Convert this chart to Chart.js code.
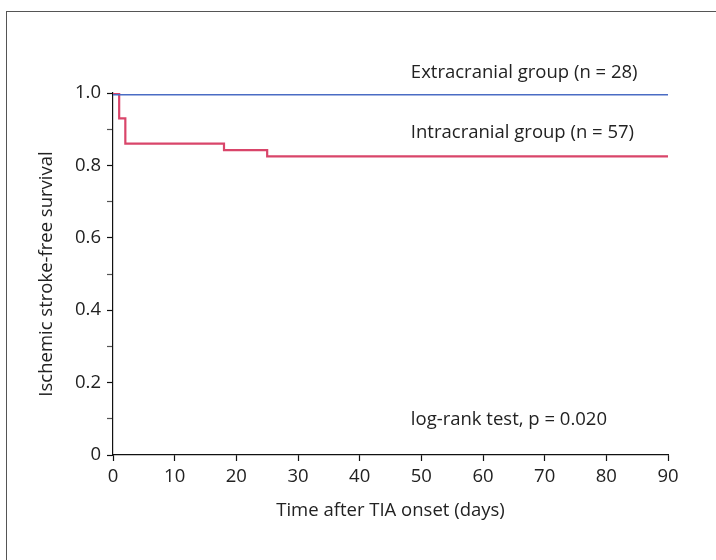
<!DOCTYPE html>
<html>
<head>
<meta charset="utf-8">
<script src="https://cdn.jsdelivr.net/npm/chart.js@4/dist/chart.umd.min.js"></script>
<style>
  html, body { margin: 0; padding: 0; background: #fff; }
  #wrap { position: relative; width: 716px; height: 560px; }
  #frame { position: absolute; left: 6px; top: 11px; right: -5px; bottom: -5px; border: 1.5px solid #555; }
  canvas { position: absolute; left: 0; top: 0; }
</style>
</head>
<body>
<div id="wrap">
  <div id="frame"></div>
  <canvas id="c" width="716" height="560"></canvas>
</div>
<script>
// Data
const extraDays = [0, 90];
const extraSurvival = [0.995, 0.995];
const intraDays = [0, 1, 2, 18, 25, 90];
const intraSurvival = [1.0, 0.93, 0.86, 0.842, 0.825, 0.825];
const xTicks = [0, 10, 20, 30, 40, 50, 60, 70, 80, 90];
const yTicks = [0, 0.2, 0.4, 0.6, 0.8, 1.0];
const labels = {
  extra: 'Extracranial group (n = 28)',
  intra: 'Intracranial group (n = 57)',
  test: 'log-rank test, p = 0.020',
  xTitle: 'Time after TIA onset (days)',
  yTitle: 'Ischemic stroke-free survival'
};
const annotations = [
  { text: labels.extra, x: 48.3, y: 1.057 },
  { text: labels.intra, x: 48.3, y: 0.89 },
  { text: labels.test, x: 48.3, y: 0.097 }
];

const FONT = "'Open Sans', 'Noto Sans', sans-serif";
const FS = 18.5;

const toXY = (xs, ys) => xs.map((x, i) => ({ x, y: ys[i] }));

const annotationPlugin = {
  id: 'annot',
  afterDraw(chart) {
    const { ctx, scales } = chart;
    ctx.save();
    ctx.font = FS + 'px ' + FONT;
    ctx.fillStyle = '#222';
    ctx.textAlign = 'left';
    ctx.textBaseline = 'middle';
    annotations.forEach(a => {
      ctx.fillText(a.text, scales.x.getPixelForValue(a.x), scales.y.getPixelForValue(a.y));
    });
    ctx.restore();
  }
};

new Chart(document.getElementById('c'), {
  type: 'line',
  data: {
    datasets: [
      {
        label: 'Extracranial',
        data: toXY(extraDays, extraSurvival),
        borderColor: '#4a6cc4',
        borderWidth: 1.6,
        pointRadius: 0,
        stepped: 'before',
        fill: false
      },
      {
        label: 'Intracranial',
        data: toXY(intraDays, intraSurvival),
        borderColor: '#d9456a',
        borderWidth: 2.2,
        pointRadius: 0,
        stepped: 'before',
        fill: false
      }
    ]
  },
  options: {
    responsive: false,
    animation: false,
    layout: { padding: { left: 0, right: 48, top: 93, bottom: 0 } },
    plugins: { legend: { display: false }, tooltip: { enabled: false } },
    scales: {
      x: {
        type: 'linear',
        min: 0, max: 90,
        afterFit: s => { s.height = 105; },
        afterBuildTicks: s => { s.ticks = xTicks.map(v => ({ value: v })); },
        grid: { drawOnChartArea: false, tickLength: 6, color: '#111', tickWidth: 1.2 },
        border: { display: true, color: '#111', width: 1.2 },
        ticks: { color: '#222', font: { family: FONT, size: FS }, padding: 5, maxRotation: 0 },
        title: { display: true, text: labels.xTitle, color: '#222', font: { family: FONT, size: FS }, padding: { top: 0, bottom: 38 } }
      },
      y: {
        type: 'linear',
        min: 0, max: 1,
        afterFit: s => { s.width = 113; },
        afterBuildTicks: s => {
          const t = [];
          for (let i = 0; i <= 10; i++) t.push({ value: i / 10 });
          s.ticks = t;
        },
        grid: {
          drawOnChartArea: false, tickLength: 6,
          tickColor: c => (Math.round(c.tick.value * 10) % 2 === 0 ? '#111' : '#555'),
          tickWidth: 1.2
        },
        border: { display: true, color: '#111', width: 1.2 },
        ticks: {
          color: '#222', font: { family: FONT, size: FS }, padding: 6,
          callback: (v) => {
            const r = Math.round(v * 10) / 10;
            if (!yTicks.some(t => Math.abs(t - r) < 1e-9)) return '';
            return r === 0 ? '0' : r.toFixed(1);
          }
        },
        title: { display: true, text: labels.yTitle, color: '#222', font: { family: FONT, size: FS }, padding: { top: 36, bottom: 0 } }
      }
    }
  },
  plugins: [annotationPlugin]
});
</script>
</body>
</html>
